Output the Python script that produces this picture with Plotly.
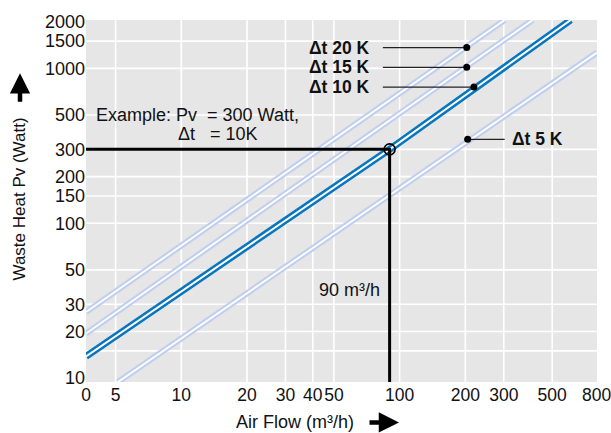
import numpy as np
import plotly.graph_objects as go

# ---------------- data ----------------
x_tick_vals = [3.66, 5, 10, 20, 30, 40, 50, 100, 200, 300, 500, 800]
x_tick_text = ["0", "5", "10", "20", "30", "40", "50", "100", "200", "300", "500", "800"]
x_grid_vals = [5, 10, 20, 30, 40, 50, 100, 200, 300, 500]

y_tick_vals = [10, 20, 30, 50, 100, 150, 200, 300, 500, 1000, 1500, 2000]
y_tick_text = ["10", "20", "30", "50", "100", "150", "200", "300", "500", "1000", "1500", "2000"]
y_grid_vals = [15, 20, 30, 50, 100, 150, 200, 300, 500, 1000, 1500]

x_range_vals = [3.66, 802]
y_range_vals = [9.44, 2052]

# Delta-t lines (air flow m3/h, waste heat W)
dt20_flow = [3.66, 303]
dt20_heat = [26.7, 2052]
dt15_flow = [3.66, 407]
dt15_heat = [19.4, 2052]
dt10_flow = [3.66, 90, 608]
dt10_heat = [13.8, 300, 2052]
dt5_flow = [5.13, 802]
dt5_heat = [9.44, 1265]

# example point
example_flow = 90
example_heat = 300

# labels for the delta-t lines
label_text = ["Δt 20 K", "Δt 15 K", "Δt 10 K", "Δt 5 K"]
label_dot_flow = [203, 203, 219, 205]
label_dot_heat = [1361, 1015, 757, 348]
label_end_flow = [83.8, 83.8, 83.8, 303]

# ---------------- styling ----------------
FONT = "Liberation Sans, Arial, Helvetica, sans-serif"
DARK_BLUE = "#0776bf"
LIGHT_BLUE = "#c1cfee"
BG = "#e6e6e6"
TXT = "#111111"

fig = go.Figure()

# grid lines as shapes below the traces
shapes = []
for v in x_grid_vals:
    shapes.append(dict(type="line", xref="x", yref="paper", x0=v, x1=v, y0=0, y1=1,
                       line=dict(color="white", width=1.6), layer="below"))
for v in y_grid_vals:
    shapes.append(dict(type="line", xref="paper", yref="y", x0=0, x1=1, y0=v, y1=v,
                       line=dict(color="white", width=1.6), layer="below"))

def double_line(xs, ys, color, outer, inner):
    fig.add_trace(go.Scatter(x=xs, y=ys, mode="lines",
                             line=dict(color=color, width=outer),
                             hoverinfo="skip", showlegend=False))
    fig.add_trace(go.Scatter(x=xs, y=ys, mode="lines",
                             line=dict(color="white", width=inner),
                             hoverinfo="skip", showlegend=False))

double_line(dt20_flow, dt20_heat, LIGHT_BLUE, 6, 1.8)
double_line(dt15_flow, dt15_heat, LIGHT_BLUE, 6, 1.8)
double_line(dt5_flow, dt5_heat, LIGHT_BLUE, 6, 1.8)
double_line(dt10_flow, dt10_heat, DARK_BLUE, 7, 2.0)

# example guide lines
fig.add_trace(go.Scatter(
    x=[x_range_vals[0], example_flow, example_flow],
    y=[example_heat, example_heat, y_range_vals[0]],
    mode="lines", line=dict(color="black", width=3),
    hoverinfo="skip", showlegend=False))
fig.add_trace(go.Scatter(
    x=[example_flow], y=[example_heat], mode="markers",
    marker=dict(symbol="circle-open", size=11, color="black", line=dict(width=1.6)),
    hoverinfo="skip", showlegend=False))

# connector lines + dots for labels
for i in range(len(label_text)):
    fig.add_trace(go.Scatter(
        x=[label_end_flow[i], label_dot_flow[i]],
        y=[label_dot_heat[i], label_dot_heat[i]],
        mode="lines", line=dict(color="#222222", width=1.2),
        hoverinfo="skip", showlegend=False))
fig.add_trace(go.Scatter(
    x=label_dot_flow, y=label_dot_heat, mode="markers",
    marker=dict(size=7, color="black"),
    hoverinfo="skip", showlegend=False))

annotations = []
for i in range(3):
    annotations.append(dict(
        x=np.log10(label_end_flow[i]), y=np.log10(label_dot_heat[i]),
        xref="x", yref="y", text="<b>%s</b>" % label_text[i],
        showarrow=False, xanchor="right", yanchor="middle", xshift=-11,
        font=dict(family=FONT, size=17.5, color=TXT)))
annotations.append(dict(
    x=np.log10(label_end_flow[3]), y=np.log10(label_dot_heat[3]),
    xref="x", yref="y", text="<b>%s</b>" % label_text[3],
    showarrow=False, xanchor="left", yanchor="middle", xshift=5,
    font=dict(family=FONT, size=17.5, color=TXT)))

# example text
annotations.append(dict(
    x=np.log10(3.98), y=np.log10(500), xref="x", yref="y",
    text="Example: Pv  = 300 Watt,", showarrow=False,
    xanchor="left", yanchor="middle",
    font=dict(family=FONT, size=18, color=TXT)))
annotations.append(dict(
    x=np.log10(9.45), y=np.log10(376), xref="x", yref="y",
    text="Δt   = 10K", showarrow=False,
    xanchor="left", yanchor="middle",
    font=dict(family=FONT, size=18, color=TXT)))
annotations.append(dict(
    x=np.log10(83), y=np.log10(36.9), xref="x", yref="y",
    text="90 m³/h", showarrow=False,
    xanchor="right", yanchor="middle",
    font=dict(family=FONT, size=18, color=TXT)))

# last x tick label (placed as annotation so it may run to the page edge)
annotations.append(dict(
    x=np.log10(x_tick_vals[-1]), y=0, xref="x", yref="paper",
    text=x_tick_text[-1], showarrow=False, xanchor="center", yanchor="top",
    yshift=-1, font=dict(family=FONT, size=17.5, color=TXT)))

# axis titles
annotations.append(dict(
    x=(295 - 86) / 511, y=(382 - 423) / 367, xref="paper", yref="paper",
    text="Air Flow (m³/h)", showarrow=False,
    xanchor="center", yanchor="middle",
    font=dict(family=FONT, size=18, color=TXT)))
annotations.append(dict(
    x=(20 - 86) / 511, y=(382 - 197) / 367, xref="paper", yref="paper",
    text="Waste Heat Pv (Watt)", showarrow=False, textangle=-90,
    xanchor="center", yanchor="middle",
    font=dict(family=FONT, size=17, color=TXT)))
# arrows
annotations.append(dict(
    x=(399 - 86) / 511, y=(382 - 423) / 367, xref="paper", yref="paper",
    text="", showarrow=True, arrowhead=2, arrowsize=0.9, arrowwidth=4.5,
    arrowcolor="black", ax=-31, ay=0, axref="pixel", ayref="pixel"))
annotations.append(dict(
    x=(20 - 86) / 511, y=(382 - 69) / 367, xref="paper", yref="paper",
    text="", showarrow=True, arrowhead=2, arrowsize=0.9, arrowwidth=4.5,
    arrowcolor="black", ax=0, ay=30, axref="pixel", ayref="pixel"))

fig.update_layout(
    width=611, height=433,
    margin=dict(l=86, r=14, t=15, b=51),
    paper_bgcolor="white", plot_bgcolor=BG,
    font=dict(family=FONT, size=18, color=TXT),
    annotations=annotations,
    shapes=shapes,
    showlegend=False,
)
fig.update_xaxes(
    type="log", range=[np.log10(x_range_vals[0]), np.log10(x_range_vals[1])],
    tickmode="array", tickvals=x_tick_vals[:-1], ticktext=x_tick_text[:-1],
    tickangle=0,
    showgrid=False, zeroline=False, showline=False, ticks="",
    tickfont=dict(family=FONT, size=17.5, color=TXT),
)
fig.update_yaxes(
    type="log", range=[np.log10(y_range_vals[0]), np.log10(y_range_vals[1])],
    tickmode="array", tickvals=y_tick_vals, ticktext=y_tick_text,
    tickangle=0,
    showgrid=False, zeroline=False, showline=False, ticks="",
    tickfont=dict(family=FONT, size=18, color=TXT),
)

fig.write_html("out.html")
